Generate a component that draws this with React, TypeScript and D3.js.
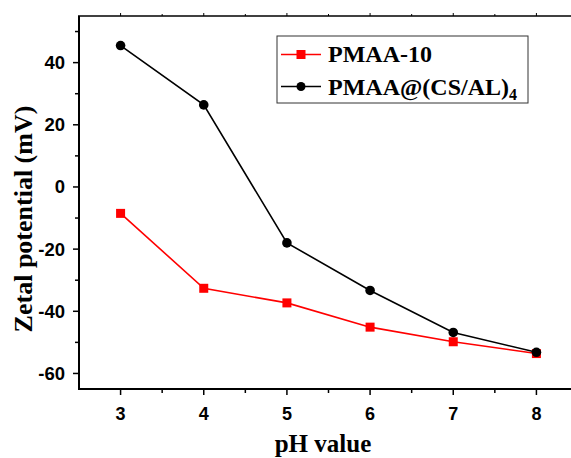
import React from "react";
import * as d3 from "d3";

const phValues = [3, 4, 5, 6, 7, 8];
const pmaa10 = [-8.5, -32.6, -37.3, -45.1, -49.8, -53.6];
const pmaaCsAl = [45.5, 26.4, -18.0, -33.3, -46.8, -53.2];
const xMajorTicks = [3, 4, 5, 6, 7, 8];
const xMinorTicks = [3.5, 4.5, 5.5, 6.5, 7.5];
const yMajorTicks = [-60, -40, -20, 0, 20, 40];
const yMinorTicks = [-50, -30, -10, 10, 30, 50];

const W = 571;
const H = 458;
const L = 79;
const R = 578;
const T = 16;
const B = 389;

export default function App() {
  const x = d3.scaleLinear().domain([2.5, 8.5]).range([L, R]);
  const y = d3.scaleLinear().domain([-65, 55]).range([B, T]);
  const line = d3
    .line<number>()
    .x((_, i) => x(phValues[i]))
    .y((d) => y(d));
  const sans = "'Liberation Sans', Arial, sans-serif";
  const serif = "'Liberation Serif', 'Times New Roman', serif";
  return (
    <svg
      width={W}
      height={H}
      style={{ position: "absolute", left: 0, top: 0, background: "#fff" }}
    >
      {/* frame */}
      <line x1={L} y1={T} x2={L} y2={B + 1} stroke="#000" strokeWidth={2} />
      <line x1={L - 1} y1={B} x2={R} y2={B} stroke="#000" strokeWidth={2} />
      <line x1={L - 1} y1={T} x2={R} y2={T} stroke="#000" strokeWidth={1.5} />
      <line x1={R} y1={T} x2={R} y2={B} stroke="#000" strokeWidth={1.5} />
      {/* x ticks */}
      {xMajorTicks.map((t) => (
        <g key={"xm" + t}>
          <line x1={x(t)} x2={x(t)} y1={B} y2={B + 6} stroke="#000" strokeWidth={1.5} />
          <line x1={x(t)} x2={x(t)} y1={T} y2={T - 3} stroke="#000" strokeWidth={1} />
          <text
            x={x(t)}
            y={419.5}
            textAnchor="middle"
            fontFamily={sans}
            fontWeight="bold"
            fontSize={18}
          >
            {t}
          </text>
        </g>
      ))}
      {xMinorTicks.map((t) => (
        <g key={"xn" + t}>
          <line x1={x(t)} x2={x(t)} y1={B} y2={B + 4} stroke="#000" strokeWidth={1.5} />
          <line x1={x(t)} x2={x(t)} y1={T} y2={T - 2} stroke="#000" strokeWidth={1} />
        </g>
      ))}
      {/* y ticks */}
      {yMajorTicks.map((t) => (
        <g key={"ym" + t}>
          <line x1={L} x2={L - 6} y1={y(t)} y2={y(t)} stroke="#000" strokeWidth={1.5} />
          <text
            x={65}
            y={y(t) + 6.5}
            textAnchor="end"
            fontFamily={sans}
            fontWeight="bold"
            fontSize={18.5}
          >
            {t}
          </text>
        </g>
      ))}
      {yMinorTicks.map((t) => (
        <line key={"yn" + t} x1={L} x2={L - 4} y1={y(t)} y2={y(t)} stroke="#000" strokeWidth={1.5} />
      ))}
      {/* axis titles */}
      <text
        transform={`translate(32,219) rotate(-90)`}
        textAnchor="middle"
        fontFamily={serif}
        fontWeight="bold"
        fontSize={26}
      >
        Zetal potential (mV)
      </text>
      <text
        x={323}
        y={452}
        textAnchor="middle"
        fontFamily={serif}
        fontWeight="bold"
        fontSize={25}
      >
        pH value
      </text>
      {/* series */}
      <path d={line(pmaa10) || ""} fill="none" stroke="#ff0000" strokeWidth={1.6} />
      {pmaa10.map((v, i) => (
        <rect
          key={"r" + i}
          x={x(phValues[i]) - 4.5}
          y={y(v) - 4.5}
          width={9}
          height={9}
          fill="#ff0000"
        />
      ))}
      <path d={line(pmaaCsAl) || ""} fill="none" stroke="#000" strokeWidth={1.6} />
      {pmaaCsAl.map((v, i) => (
        <circle key={"c" + i} cx={x(phValues[i])} cy={y(v)} r={4.8} fill="#000" />
      ))}
      {/* legend */}
      <rect x={277} y={36} width={251} height={67} fill="#fff" stroke="#333" strokeWidth={1} />
      <line x1={281} x2={321} y1={54.5} y2={54.5} stroke="#ff0000" strokeWidth={1.6} />
      <rect x={296.5} y={50} width={9} height={9} fill="#ff0000" />
      <text x={328} y={62} fontFamily={serif} fontWeight="bold" fontSize={24}>
        PMAA-10
      </text>
      <line x1={281} x2={321} y1={86.5} y2={86.5} stroke="#000" strokeWidth={1.6} />
      <circle cx={301} cy={86.5} r={4.5} fill="#000" />
      <text x={328} y={95} fontFamily={serif} fontWeight="bold" fontSize={24}>
        PMAA@(CS/AL)
        <tspan fontSize={16} dy={5}>
          4
        </tspan>
      </text>
    </svg>
  );
}
